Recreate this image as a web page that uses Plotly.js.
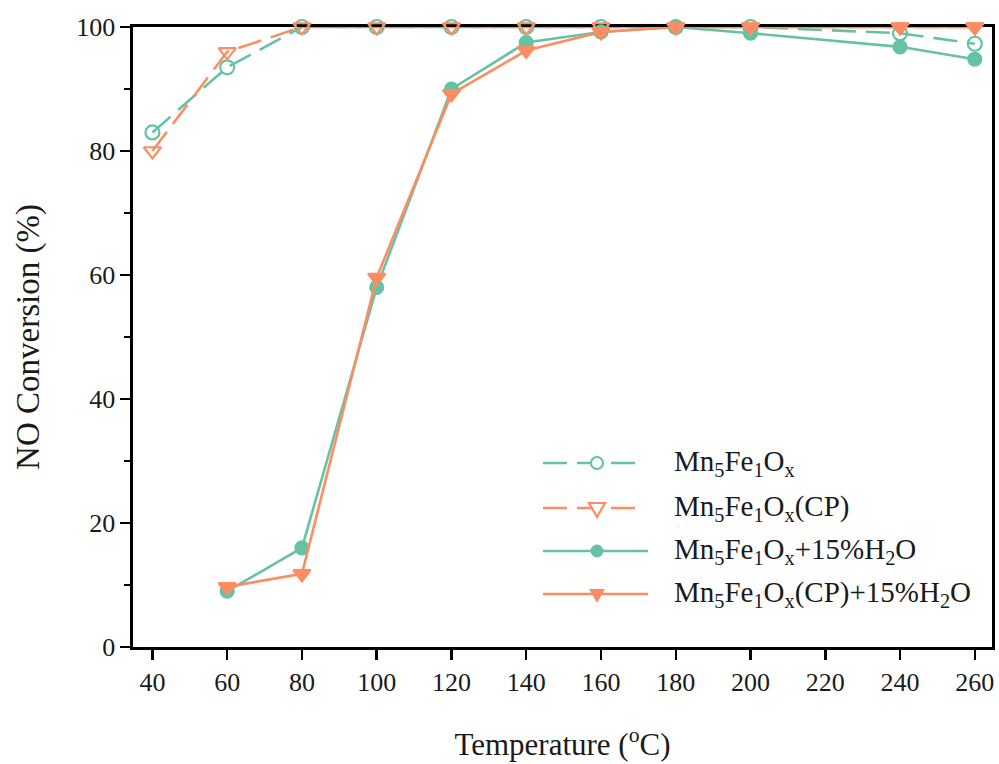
<!DOCTYPE html>
<html>
<head>
<meta charset="utf-8">
<script src="https://cdn.plot.ly/plotly-3.0.1.min.js"></script>
<style>
  html, body { margin: 0; padding: 0; background: #fff; }
  #chart { width: 999px; height: 764px; }
</style>
</head>
<body>
<div id="chart"></div>
<script>
// Temperature (°C)
const tempDry = [40, 60, 80, 100, 120, 140, 160, 180, 200, 240, 260];
const tempWet = [60, 80, 100, 120, 140, 160, 180, 200, 240, 260];

// NO conversion (%)
const mnFe = [83, 93.5, 100, 100, 100, 100, 100, 100, 100, 99, 97.3];
const mnFeCP = [80, 96, 100, 100, 100, 100, 100, 100, 100, 100, 100];
const mnFeH2O = [9, 16, 58, 90, 97.5, 99.2, 100, 99, 96.8, 94.8];
const mnFeCPH2O = [9.7, 11.8, 59.6, 89.2, 96.2, 99.2, 100, 100, 100, 100];

const seriesNames = [
  'Mn<sub>5</sub>Fe<sub>1</sub>O<sub>x</sub>',
  'Mn<sub>5</sub>Fe<sub>1</sub>O<sub>x</sub>(CP)',
  'Mn<sub>5</sub>Fe<sub>1</sub>O<sub>x</sub>+15%H<sub>2</sub>O',
  'Mn<sub>5</sub>Fe<sub>1</sub>O<sub>x</sub>(CP)+15%H<sub>2</sub>O'
];

const xTicks = [40, 60, 80, 100, 120, 140, 160, 180, 200, 220, 240, 260];
const yTicks = [0, 20, 40, 60, 80, 100];

const TEAL = '#66c2a5';
const ORANGE = '#fc8d62';
const DASH = '24px,10px';
const FONT = 'Liberation Serif, Times New Roman, serif';
const INK = '#1a1a1a';

const styles = [
  { color: TEAL, dash: DASH, symbol: 'circle-open', size: 14 },
  { color: ORANGE, dash: DASH, symbol: 'triangle-down-open', size: 15 },
  { color: TEAL, dash: 'solid', symbol: 'circle', size: 13 },
  { color: ORANGE, dash: 'solid', symbol: 'triangle-down', size: 15 }
];
const xs = [tempDry, tempDry, tempWet, tempWet];
const ys = [mnFe, mnFeCP, mnFeH2O, mnFeCPH2O];

const traces = styles.map((s, i) => ({
  type: 'scatter',
  mode: 'lines+markers',
  x: xs[i],
  y: ys[i],
  name: seriesNames[i],
  cliponaxis: false,
  line: { color: s.color, width: 2.6, dash: s.dash },
  marker: { symbol: s.symbol, size: s.size, color: s.color, line: { color: s.color, width: 2.2 } },
  showlegend: false
}));

// plot-area geometry in pixels, used to place the hand-built legend
const W = 999, H = 764;
const M = { l: 133, r: 7, t: 27, b: 117 };
const px = x => (x - M.l) / (W - M.l - M.r);
const py = y => 1 - (y - M.t) / (H - M.t - M.b);

const legendRows = [463, 508, 551, 594];
const keyX0 = 543, keyX1 = 648, keyMid = 597, textX = 672;

const shapes = [];
const annotations = [];
styles.forEach((s, i) => {
  const yr = py(legendRows[i]);
  shapes.push({
    type: 'line', xref: 'paper', yref: 'paper',
    x0: px(keyX0), x1: px(s.dash === 'solid' ? keyX1 : 640), y0: yr, y1: yr,
    line: { color: s.color, width: 2.6, dash: s.dash }
  });
  const filled = s.dash === 'solid';
  const fill = filled ? s.color : '#ffffff';
  if (s.symbol.startsWith('circle')) {
    const r = filled ? 6.5 : 6;
    shapes.push({
      type: 'circle', xref: 'paper', yref: 'paper',
      xsizemode: 'pixel', ysizemode: 'pixel',
      xanchor: px(keyMid), yanchor: yr,
      x0: -r, x1: r, y0: -r, y1: r,
      fillcolor: fill, line: { color: s.color, width: filled ? 0 : 2.2 }
    });
  } else {
    shapes.push({
      type: 'path', xref: 'paper', yref: 'paper',
      xsizemode: 'pixel', ysizemode: 'pixel',
      xanchor: px(keyMid), yanchor: yr,
      path: 'M-8,5 L8,5 L0,-9 Z',
      fillcolor: fill, line: { color: s.color, width: filled ? 0 : 2.2 }
    });
  }
  annotations.push({
    xref: 'paper', yref: 'paper', x: px(textX), y: yr,
    xanchor: 'left', yanchor: 'middle', showarrow: false,
    text: seriesNames[i],
    font: { family: FONT, size: 29, color: INK }
  });
});

const layout = {
  width: W, height: H,
  margin: M,
  paper_bgcolor: '#fff', plot_bgcolor: '#fff',
  font: { family: FONT, size: 26, color: INK },
  showlegend: false,
  xaxis: {
    range: [34.8, 264.6],
    tickvals: xTicks,
    ticktext: xTicks.map(String),
    ticks: 'outside', ticklen: 10, tickwidth: 2.5, tickcolor: '#000',
    showline: true, linecolor: '#000', linewidth: 2.6, mirror: true,
    showgrid: false, zeroline: false,
    layer: 'below traces',
    tickfont: { family: FONT, size: 26, color: INK },
    title: { text: 'Temperature (<sup>o</sup>C)', font: { family: FONT, size: 31, color: INK }, standoff: 38 }
  },
  yaxis: {
    range: [0, 100],
    tickvals: yTicks,
    ticktext: yTicks.map(String),
    ticks: 'outside', ticklen: 10, tickwidth: 2.5, tickcolor: '#000',
    minor: { dtick: 10, tick0: 0, ticks: 'outside', ticklen: 6, tickwidth: 2.2, tickcolor: '#000' },
    showline: true, linecolor: '#000', linewidth: 2.6, mirror: true,
    showgrid: false, zeroline: false,
    layer: 'below traces',
    tickfont: { family: FONT, size: 26, color: INK },
    title: { text: 'NO Conversion (%)', font: { family: FONT, size: 33, color: INK }, standoff: 27 }
  },
  shapes: shapes,
  annotations: annotations
};

Plotly.newPlot('chart', traces, layout, { displayModeBar: false, staticPlot: true });
</script>
</body>
</html>
